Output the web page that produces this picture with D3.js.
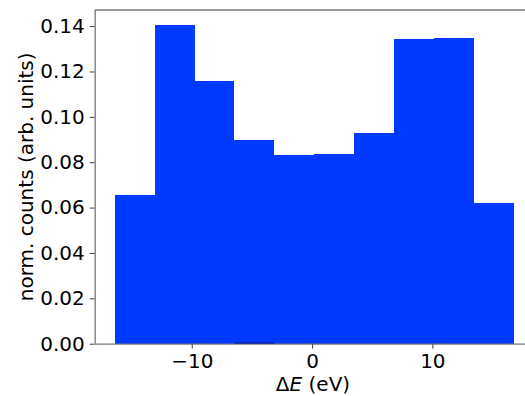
<!DOCTYPE html>
<html><head><meta charset="utf-8">
<script src="https://cdn.jsdelivr.net/npm/d3@7"></script>
<style>
body{margin:0;background:#fff;}
svg{display:block;font-family:"DejaVu Sans",sans-serif;}
</style></head><body>
<svg id="chart" width="525" height="396"></svg>
<script>
// histogram bin edges (eV) and normalised counts
const binEdges = [-16.41, -13.09, -9.77, -6.45, -3.13, 0.19, 3.51, 6.83, 10.15, 13.47, 16.79];
const counts = [0.0655, 0.1405, 0.1158, 0.0898, 0.0833, 0.0837, 0.0929, 0.1343, 0.1347, 0.0620];
// faint second histogram visible only as a thin darker strip
const counts2 = [0, 0, 0, 0.0007, 0, 0, 0, 0, 0, 0];
const xTicks = [-10, 0, 10];
const yTicks = [0.00, 0.02, 0.04, 0.06, 0.08, 0.10, 0.12, 0.14];

const svg = d3.select("#chart");
const margin = {left: 94.7, top: 10, bottom: 343.7};
const x = d3.scaleLinear().domain([-18.07, 18.45]).range([margin.left, 534]);
const y = d3.scaleLinear().domain([0, 0.1471]).range([margin.bottom, margin.top]);

const bins = counts.map((c, i) => ({x0: binEdges[i], x1: binEdges[i+1], v: c}));
const bins2 = counts2.map((c, i) => ({x0: binEdges[i], x1: binEdges[i+1], v: c})).filter(d => d.v > 0);

svg.append("g").selectAll("rect").data(bins).join("rect")
  .attr("x", d => x(d.x0))
  .attr("y", d => y(d.v))
  .attr("width", d => x(d.x1) - x(d.x0))
  .attr("height", d => y(0) - y(d.v))
  .attr("fill", "#0039ff")
  .attr("shape-rendering", "crispEdges");

// axes
const xAxis = d3.axisBottom(x).tickValues(xTicks).tickSize(5).tickPadding(5)
  .tickFormat(d => d < 0 ? "\u2212" + Math.abs(d) : d);
const gx = svg.append("g").attr("transform", `translate(0,${margin.bottom})`).call(xAxis);
const yAxis = d3.axisLeft(y).tickValues(yTicks).tickSize(5).tickPadding(5).tickFormat(d3.format(".2f"));
const gy = svg.append("g").attr("transform", `translate(${margin.left},0)`).call(yAxis);
[gx, gy].forEach(g => {
  g.select(".domain").attr("stroke", "#777").attr("stroke-width", 1.3);
  g.selectAll(".tick line").attr("stroke", "#444").attr("stroke-width", 1);
  g.selectAll(".tick text").attr("fill", "#000").style("font-size", "20px").style("font-family", "DejaVu Sans");
});
gx.select(".domain").attr("d", `M${margin.left},0.5H525`);
gy.select(".domain").attr("d", `M0.5,${margin.bottom}V${margin.top}`);
// top spine
svg.append("line").attr("x1", margin.left).attr("x2", 525).attr("y1", margin.top).attr("y2", margin.top)
  .attr("stroke", "#777").attr("stroke-width", 1.3);

svg.append("g").selectAll("rect").data(bins2).join("rect")
  .attr("x", d => x(d.x0))
  .attr("y", d => y(d.v))
  .attr("width", d => x(d.x1) - x(d.x0))
  .attr("height", d => y(0) - y(d.v))
  .attr("fill", "#0a2aa8");

// labels
const xl = svg.append("text").attr("x", 313).attr("y", 391).attr("text-anchor", "middle")
  .style("font-size", "20px");
xl.append("tspan").text("\u0394");
xl.append("tspan").attr("font-style", "italic").text("E");
xl.append("tspan").text(" (eV)");

svg.append("text").attr("transform", `translate(33,${(margin.top+margin.bottom)/2}) rotate(-90)`)
  .attr("text-anchor", "middle").style("font-size", "20px").text("norm. counts (arb. units)");
</script>
</body></html>
